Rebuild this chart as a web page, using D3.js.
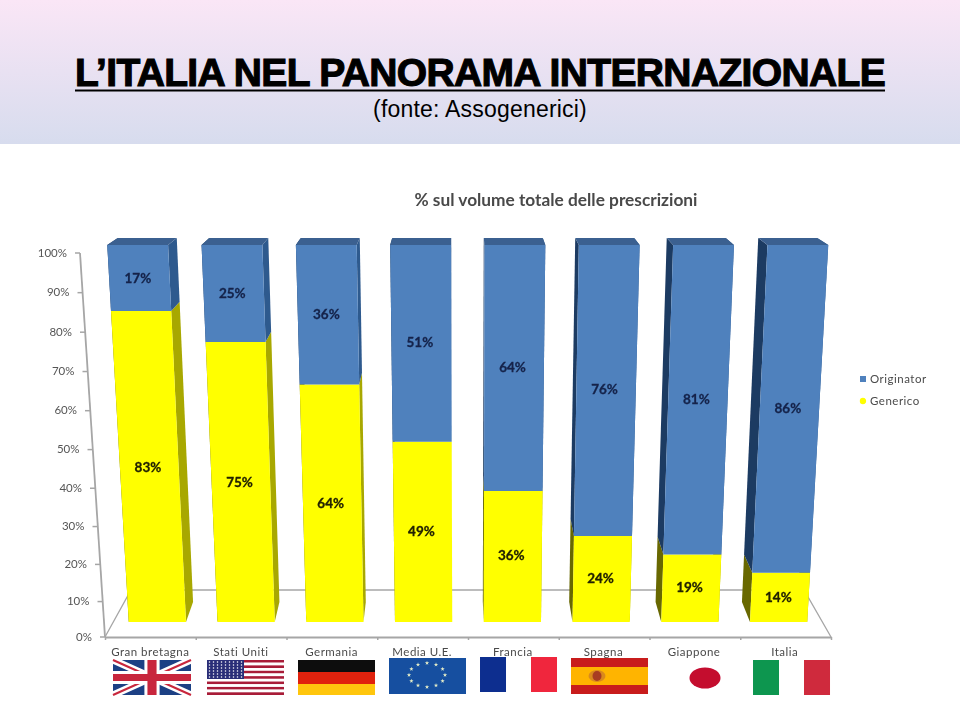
<!DOCTYPE html>
<html>
<head>
<meta charset="utf-8">
<script src="https://cdnjs.cloudflare.com/ajax/libs/d3/7.8.5/d3.min.js"></script>
<style>
html,body{margin:0;padding:0;background:#fff;}
svg{display:block;}
text{font-family:Lato,sans-serif;}
.head{font-family:"Liberation Sans",Arial,sans-serif;}
</style>
</head>
<body>
<svg id="chart" width="960" height="714"></svg>
<script>
//values
var countries = ["Gran bretagna","Stati Uniti","Germania","Media U.E.","Francia","Spagna","Giappone","Italia"];
var generico = [83,75,64,49,36,24,19,14];
var originator = [17,25,36,51,64,76,81,86];
var yTicks = [0,10,20,30,40,50,60,70,80,90,100];
var legendNames = ["Originator","Generico"];

var svg = d3.select("#chart");

//////////////////////////////////////////////////////////////
//header band
var defs = svg.append("defs");
var grad = defs.append("linearGradient")
    .attr("id","band")
    .attr("x1",0).attr("x2",0).attr("y1",0).attr("y2",1);
grad.append("stop").attr("offset","0%").attr("stop-color","#fae6f6");
grad.append("stop").attr("offset","100%").attr("stop-color","#d7dcee");
defs.append("filter").attr("id","soft")
    .append("feGaussianBlur").attr("stdDeviation",0.45);

svg.append("rect")
    .attr("width",960).attr("height",144)
    .attr("fill","url(#band)");

var title = svg.append("text")
    .text("L\u2019ITALIA NEL PANORAMA INTERNAZIONALE")
    .classed("head",true)
    .attr("x",480).attr("y",86)
    .attr("text-anchor","middle")
    .attr("font-size",39)
    .attr("letter-spacing",-0.65)
    .attr("font-weight","bold")
    .attr("stroke","#000").attr("stroke-width",1.1);

//underline as its own line, text-decoration picks up the stroke and gets too thick
var titleWidth = title.node().getComputedTextLength();
svg.append("line")
    .attr("x1",480-titleWidth/2).attr("x2",480+titleWidth/2)
    .attr("y1",90.5).attr("y2",90.5)
    .attr("stroke","#000").attr("stroke-width",2);

svg.append("text")
    .text("(fonte: Assogenerici)")
    .classed("head",true)
    .attr("x",480).attr("y",117)
    .attr("text-anchor","middle")
    .attr("font-size",23)
    .attr("letter-spacing",0.2);

var chart = svg.append("g").attr("filter","url(#soft)");

chart.append("text")
    .text("% sul volume totale delle prescrizioni")
    .attr("x",556).attr("y",206)
    .attr("text-anchor","middle")
    .attr("font-size",17.3)
    .attr("font-weight","bold")
    .attr("fill","#4a4a4a");

//////////////////////////////////////////////////////////////
//scales: the bars are in perspective so one band scale per corner of the box
var makeBand = function(range)
{
    return d3.scaleBand().domain(countries).range(range)
        .paddingInner(0.355).paddingOuter(0.1775);
}
var frontBottom = makeBand([113,823]);
var frontTop = makeBand([90.5,845]);
var backBottom = makeBand([122,813]);
var backTop = makeBand([101.5,833.5]);

var depthScale = d3.scalePow().exponent(1.035).domain([0,100]).range([0,1]);
var frontY = d3.scaleLinear().domain([0,1]).range([622,245]);
var backY = d3.scaleLinear().domain([0,1]).range([602,238]);

//screen position of a corner: side 0 left, 1 right; back false/true
var corner = function(country,side,value,back)
{
    var low = back ? backBottom : frontBottom;
    var high = back ? backTop : frontTop;
    var t = depthScale(value);
    var x0 = low(country)+side*low.bandwidth();
    var x1 = high(country)+side*high.bandwidth();
    var y = back ? backY(t) : frontY(t);
    return [x0+(x1-x0)*t,y];
}

var poly = function(points)
{
    return d3.line()(points)+"Z";
}

//////////////////////////////////////////////////////////////
//axes
var axisY = d3.scalePow().exponent(1.035).domain([0,100]).range([637,253]);
var axisX = d3.scaleLinear().domain([0,100]).range([105,80]);

var yAxis = d3.axisLeft(axisY)
    .tickValues(yTicks)
    .tickSize(5)
    .tickPadding(8)
    .tickFormat(function(d){return d+"%";});

var gy = chart.append("g").call(yAxis);
gy.select(".domain").remove();
gy.selectAll(".tick")
    .attr("transform",function(d){return "translate("+axisX(d)+","+axisY(d)+")";});
gy.selectAll(".tick line").attr("stroke","#a6a6a6").attr("stroke-width",1.5);
gy.selectAll(".tick text")
    .attr("font-family","Lato,sans-serif")
    .attr("font-size",11.5)
    .attr("fill","#555");
chart.append("line")
    .attr("x1",axisX(0)).attr("y1",axisY(0))
    .attr("x2",axisX(100)).attr("y2",axisY(100))
    .attr("stroke","#a6a6a6").attr("stroke-width",1.8);

var floorX = d3.scaleLinear().domain([0,countries.length]).range([105,831]);
var xAxis = d3.axisBottom(floorX)
    .tickValues(d3.range(countries.length+1))
    .tickSize(3)
    .tickSizeOuter(0)
    .tickFormat("");
var gx = chart.append("g")
    .attr("transform","translate(0,637)")
    .call(xAxis);
gx.select(".domain").attr("stroke","#a6a6a6").attr("stroke-width",1.8);
gx.selectAll(".tick line").attr("stroke","#a6a6a6").attr("stroke-width",1.5);

//floor edges behind the bars
var floor = chart.append("g")
    .attr("fill","none")
    .attr("stroke","#a6a6a6")
    .attr("stroke-width",1.3);
floor.append("path").attr("d",d3.line()([[floorX(0),637],[131,590],[804,590],[floorX(8),637]]));

//////////////////////////////////////////////////////////////
//bars
var segments = function(i)
{
    var name = countries[i];
    return [
        {name:name,from:0,to:generico[i],value:generico[i],
            front:"#ffff00",right:"#a8a800",left:"#676700",top:"#a8a800",text:"#222200"},
        {name:name,from:generico[i],to:100,value:originator[i],
            front:"#4f81bd",right:"#2f5a8e",left:"#1c3a62",top:"#3a6090",text:"#14234a"}
    ];
}

var bars = chart.selectAll(".bar")
    .data(countries)
    .enter()
    .append("g")
    .classed("bar",true);

bars.each(function(name,i)
{
    var bar = d3.select(this);
    segments(i).forEach(function(s)
    {
        [0,1].forEach(function(side)
        {
            bar.append("path")
                .attr("d",poly([
                    corner(name,side,s.from,false),
                    corner(name,side,s.to,false),
                    corner(name,side,s.to,true),
                    corner(name,side,s.from,true)]))
                .attr("fill",side==1 ? s.right : s.left);
        });
    });
    var last = segments(i)[1];
    bar.append("path")
        .attr("d",poly([
            corner(name,0,100,false),
            corner(name,1,100,false),
            corner(name,1,100,true),
            corner(name,0,100,true)]))
        .attr("fill",last.top);
    segments(i).forEach(function(s)
    {
        bar.append("path")
            .attr("d",poly([
                corner(name,0,s.from,false),
                corner(name,1,s.from,false),
                corner(name,1,s.to,false),
                corner(name,0,s.to,false)]))
            .attr("fill",s.front);
    });
    segments(i).forEach(function(s)
    {
        //labels sit on the straight middle, not the perspective one
        var mid = (s.from+s.to)/2;
        var a = corner(name,0,mid,false);
        var b = corner(name,1,mid,false);
        bar.append("text")
            .text(s.value+"%")
            .attr("x",(a[0]+b[0])/2-1.5)
            .attr("y",frontY(mid/100)+1.5)
            .attr("dy","0.35em")
            .attr("text-anchor","middle")
            .attr("font-size",13.5)
            .attr("font-weight","bold")
            .attr("stroke",s.text).attr("stroke-width",0.3)
            .attr("fill",s.text);
    });
});

//////////////////////////////////////////////////////////////
//category names
var nameX = d3.scaleBand().domain(countries).range([105,830]);
chart.selectAll(".name")
    .data(countries)
    .enter()
    .append("text")
    .classed("name",true)
    .text(function(d){return d;})
    .attr("x",function(d){return nameX(d)+nameX.bandwidth()/2;})
    .attr("y",656)
    .attr("text-anchor","middle")
    .attr("font-size",11.5)
    .attr("letter-spacing",0.5)
    .attr("fill","#4a4a4a");

//////////////////////////////////////////////////////////////
//legend
var legendY = d3.scalePoint().domain(legendNames).range([379,401]);
chart.selectAll(".leg")
    .data(legendNames)
    .enter()
    .append("text")
    .classed("leg",true)
    .text(function(d){return d;})
    .attr("x",870)
    .attr("y",function(d){return legendY(d);})
    .attr("dy","0.35em")
    .attr("font-size",11.5)
    .attr("letter-spacing",0.5)
    .attr("fill","#4a4a4a");
chart.append("rect")
    .attr("x",860).attr("y",legendY("Originator")-3)
    .attr("width",6).attr("height",6)
    .attr("fill","#4f81bd");
chart.append("circle")
    .attr("cx",863).attr("cy",legendY("Generico"))
    .attr("r",3.2)
    .attr("fill","#ffff00");

//////////////////////////////////////////////////////////////
//flags, each one drawn in a 77x35 box
var flagW = 77, flagH = 35;

var block = function(g,x,y,w,h,color)
{
    g.append("rect").attr("x",x).attr("y",y).attr("width",w).attr("height",h).attr("fill",color);
}

var flagDrawers = {
    "Gran bretagna":function(g)
    {
        //this one is a bit wider and starts further left than the step of the others
        g = g.append("g").attr("transform","translate(-3,0) scale(1.013,1)");
        block(g,0,0,flagW,flagH,"#1c3f84");
        g.append("path").attr("d","M0,0L77,35M77,0L0,35").attr("stroke","#fff").attr("stroke-width",7);
        g.append("path").attr("d","M0,0L77,35M77,0L0,35").attr("stroke","#c8283c").attr("stroke-width",2);
        block(g,31,0,15,flagH,"#fff");
        block(g,0,11,flagW,13,"#fff");
        block(g,34,0,9,flagH,"#c8283c");
        block(g,0,14,flagW,7,"#c8283c");
    },
    "Stati Uniti":function(g)
    {
        d3.range(13).forEach(function(i)
        {
            block(g,0,i*flagH/13,flagW,flagH/13,i%2==0 ? "#a81c38" : "#fff");
        });
        block(g,0,0,37,19,"#2b2f78");
        d3.range(6).forEach(function(r)
        {
            d3.range(9).forEach(function(c)
            {
                g.append("circle").attr("cx",2.5+c*4).attr("cy",2+r*3).attr("r",0.75).attr("fill","#fff");
            });
        });
    },
    "Germania":function(g)
    {
        block(g,0,0,flagW,12,"#111");
        block(g,0,12,flagW,12,"#e0240e");
        block(g,0,24,flagW,11,"#ffc60a");
    },
    "Media U.E.":function(g)
    {
        block(g,0,-2,flagW,36,"#1450a0");
        d3.range(12).forEach(function(i)
        {
            var a = i*Math.PI/6;
            g.append("path")
                .attr("d",d3.symbol().type(d3.symbolStar).size(6)())
                .attr("transform","translate("+(38+18*Math.sin(a))+","+(15-12*Math.cos(a))+")")
                .attr("fill","#e6ecc8");
        });
    },
    "Francia":function(g)
    {
        block(g,0,-3,26,35,"#0f2f8f");
        block(g,51,-3,26,35,"#f0283c");
    },
    "Spagna":function(g)
    {
        block(g,0,-2,flagW,36,"#c81e1e");
        block(g,0,7,flagW,18,"#ffb400");
        g.append("ellipse").attr("cx",26).attr("cy",16).attr("rx",8.5).attr("ry",6).attr("fill","#d98a1e");
        g.append("ellipse").attr("cx",26).attr("cy",16).attr("rx",4.5).attr("ry",5).attr("fill","#a83c24");
    },
    "Giappone":function(g)
    {
        g.append("ellipse").attr("cx",43).attr("cy",18).attr("rx",15.5).attr("ry",10.5).attr("fill","#c4082e");
    },
    "Italia":function(g)
    {
        block(g,0,0,26,35,"#0f9650");
        block(g,51,0,26,35,"#cf2a3c");
    }
};

var flagX = d3.scaleBand().domain(countries).range([116,830]).paddingInner(0.154).paddingOuter(0);

chart.selectAll(".flag")
    .data(countries)
    .enter()
    .append("g")
    .classed("flag",true)
    .attr("transform",function(d){return "translate("+flagX(d)+",660)";})
    .each(function(d){ flagDrawers[d](d3.select(this)); });
</script>
</body>
</html>
